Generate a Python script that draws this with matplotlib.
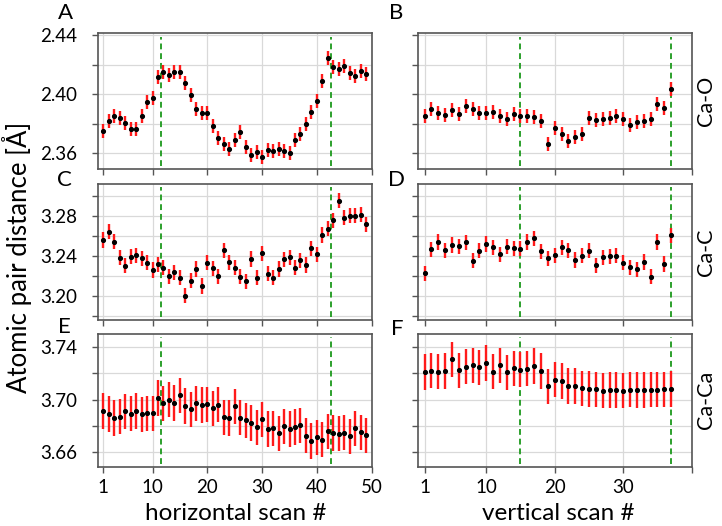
import matplotlib
matplotlib.use("Agg")
from matplotlib import pyplot as plt
import numpy as np

plt.rcParams['font.family'] = ['Lato', 'DejaVu Sans']

# horizontal scan (49 points), vertical scan (37 points)
ca_o_h = [2.3753, 2.3821, 2.3850, 2.3837, 2.3805, 2.3765, 2.3767, 2.3855, 2.3945, 2.3974,
          2.4114, 2.4148, 2.4130, 2.4148, 2.4148, 2.4076, 2.3997, 2.3900, 2.3875, 2.3873,
          2.3783, 2.3701, 2.3663, 2.3629, 2.3688, 2.3747, 2.3645, 2.3589, 2.3607, 2.3575,
          2.3623, 2.3616, 2.3629, 2.3618, 2.3602, 2.3690, 2.3731, 2.3798, 2.3882, 2.3954,
          2.4089, 2.4242, 2.4184, 2.4168, 2.4188, 2.4141, 2.4125, 2.4158, 2.4136]
ca_o_v = [2.3852, 2.3900, 2.3873, 2.3859, 2.3893, 2.3864, 2.3920, 2.3900, 2.3870, 2.3875,
          2.3882, 2.3855, 2.3834, 2.3866, 2.3852, 2.3850, 2.3848, 2.3819, 2.3661, 2.3769,
          2.3731, 2.3686, 2.3713, 2.3733, 2.3841, 2.3825, 2.3832, 2.3839, 2.3855, 2.3832,
          2.3794, 2.3814, 2.3821, 2.3832, 2.3931, 2.3907, 2.4035]
ca_c_h = [3.2558, 3.2641, 3.2541, 3.2382, 3.2302, 3.2392, 3.2408, 3.2375, 3.2332, 3.2259,
          3.2315, 3.2282, 3.2199, 3.2236, 3.2183, 3.2003, 3.2153, 3.2269, 3.2100, 3.2332,
          3.2276, 3.2199, 3.2458, 3.2335, 3.2282, 3.2193, 3.2149, 3.2369, 3.2183, 3.2425,
          3.2222, 3.2183, 3.2269, 3.2365, 3.2385, 3.2282, 3.2355, 3.2309, 3.2475, 3.2415,
          3.2608, 3.2671, 3.2757, 3.2950, 3.2780, 3.2800, 3.2800, 3.2810, 3.2717]
ca_c_v = [3.2226, 3.2468, 3.2538, 3.2458, 3.2508, 3.2495, 3.2535, 3.2352, 3.2452, 3.2518,
          3.2485, 3.2418, 3.2491, 3.2475, 3.2471, 3.2538, 3.2574, 3.2448, 3.2375, 3.2408,
          3.2485, 3.2458, 3.2359, 3.2402, 3.2452, 3.2305, 3.2388, 3.2398, 3.2402, 3.2332,
          3.2286, 3.2266, 3.2339, 3.2193, 3.2538, 3.2319, 3.2604]
ca_ca_h = [3.6912, 3.6889, 3.6858, 3.6868, 3.6909, 3.6891, 3.6912, 3.6886, 3.6896, 3.6894,
           3.7012, 3.6971, 3.6999, 3.6973, 3.7032, 3.6950, 3.6925, 3.6971, 3.6958, 3.6963,
           3.6932, 3.6960, 3.6863, 3.6858, 3.6948, 3.6861, 3.6840, 3.6820, 3.6787, 3.6848,
           3.6774, 3.6781, 3.6741, 3.6794, 3.6774, 3.6789, 3.6802, 3.6723, 3.6682, 3.6712,
           3.6692, 3.6756, 3.6743, 3.6738, 3.6746, 3.6718, 3.6780, 3.6749, 3.6726]
ca_ca_v = [3.7211, 3.7221, 3.7213, 3.7219, 3.7308, 3.7224, 3.7252, 3.7262, 3.7249, 3.7280,
           3.7213, 3.7262, 3.7208, 3.7239, 3.7229, 3.7236, 3.7257, 3.7219, 3.7101, 3.7152,
           3.7142, 3.7104, 3.7104, 3.7086, 3.7081, 3.7078, 3.7069, 3.7074, 3.7074, 3.7069,
           3.7076, 3.7074, 3.7074, 3.7076, 3.7076, 3.7078, 3.7081]

err_o = 0.0047
err_c = 0.0075
err_ca = 0.0135

h_lines = [11.5, 42.5]
v_lines = [15, 37]

fig = plt.figure(figsize=(7.22, 5.26), dpi=100)
W, H = 722, 526

def box(x0, x1, top, bottom):
    return [x0 / W, 1 - bottom / H, (x1 - x0) / W, (bottom - top) / H]

rows = [(33.3, 169), (184, 320), (334, 466.7)]
cols = [(97.7, 371.7), (417.7, 691.7)]

ylims = [(2.3494, 2.4411), (3.1761, 3.3116), (3.6485, 3.7503)]
yticks = [np.arange(2.36, 2.441, 0.02), np.arange(3.18, 3.301, 0.02), np.arange(3.66, 3.741, 0.02)]
ylabs = [['2.36', '', '2.40', '', '2.44'],
         ['', '3.20', '', '3.24', '', '3.28', ''],
         ['3.66', '', '3.70', '', '3.74']]
data = [[ca_o_h, ca_o_v], [ca_c_h, ca_c_v], [ca_ca_h, ca_ca_v]]
errs = [err_o, err_c, err_ca]
letters = [['A', 'B'], ['C', 'D'], ['E', 'F']]
letter_pos = [[(65, 13), (396, 13)], [(64, 180), (396, 180)], [(64, 327), (397, 329)]]
pairs = ['Ca-O', 'Ca-C', 'Ca-Ca']

for r in range(3):
    for c in range(2):
        ax = fig.add_axes(box(cols[c][0], cols[c][1], rows[r][0], rows[r][1]))
        y = data[r][c]
        x = np.arange(1, len(y) + 1)
        ax.errorbar(x, y, yerr=errs[r], fmt='o', color='black', ms=2.7,
                    ecolor='#ff1a1a', elinewidth=1.7, capsize=0, zorder=3)
        for v in (h_lines if c == 0 else v_lines):
            ax.axvline(v, ymin=0.02, ymax=0.975, color='#2ca02c',
                       linestyle=(0, (3, 2)), linewidth=1.4, zorder=2)
        ax.set_ylim(*ylims[r])
        ax.set_yticks(yticks[r])
        if c == 0:
            ax.set_yticklabels(ylabs[r])
        else:
            ax.set_yticklabels([])
        if c == 0:
            ax.set_xlim(0, 50)
            ax.set_xticks([1, 10, 20, 30, 40, 50])
            xl = ['1', '10', '20', '30', '40', '50']
        else:
            ax.set_xlim(0, 40)
            ax.set_xticks([1, 10, 20, 30, 40])
            xl = ['1', '10', '20', '30', '']
        if r == 2:
            ax.set_xticklabels(xl)
        else:
            ax.set_xticklabels([])
        ax.grid(True, color='#d9d9d9', linewidth=0.9, zorder=0)
        ax.set_axisbelow(True)
        for s in ax.spines.values():
            s.set_color('#555555')
            s.set_linewidth(1.2)
        ax.tick_params(direction='out', length=4, width=1, color='#555555',
                       labelsize=13.5)
        ax.tick_params(axis='y', pad=11)
        ax.tick_params(axis='x', pad=5)
        lx, ly = letter_pos[r][c]
        fig.text(lx / W, 1 - ly / H, letters[r][c], fontsize=16, ha='center', va='center')
    fig.text(706 / W, 1 - (rows[r][0] + rows[r][1]) / 2 / H, pairs[r], fontsize=15.5,
             rotation=90, ha='center', va='center')

fig.text(17 / W, 1 - 257 / H, 'Atomic pair distance [Å]', fontsize=18.5, rotation=90,
         ha='center', va='center')
fig.text(236 / W, 1 - 514 / H, 'horizontal scan #', fontsize=17.5, ha='center', va='center')
fig.text(558 / W, 1 - 514 / H, 'vertical scan #', fontsize=17.5, ha='center', va='center')

fig.savefig('out.png', dpi=100)
